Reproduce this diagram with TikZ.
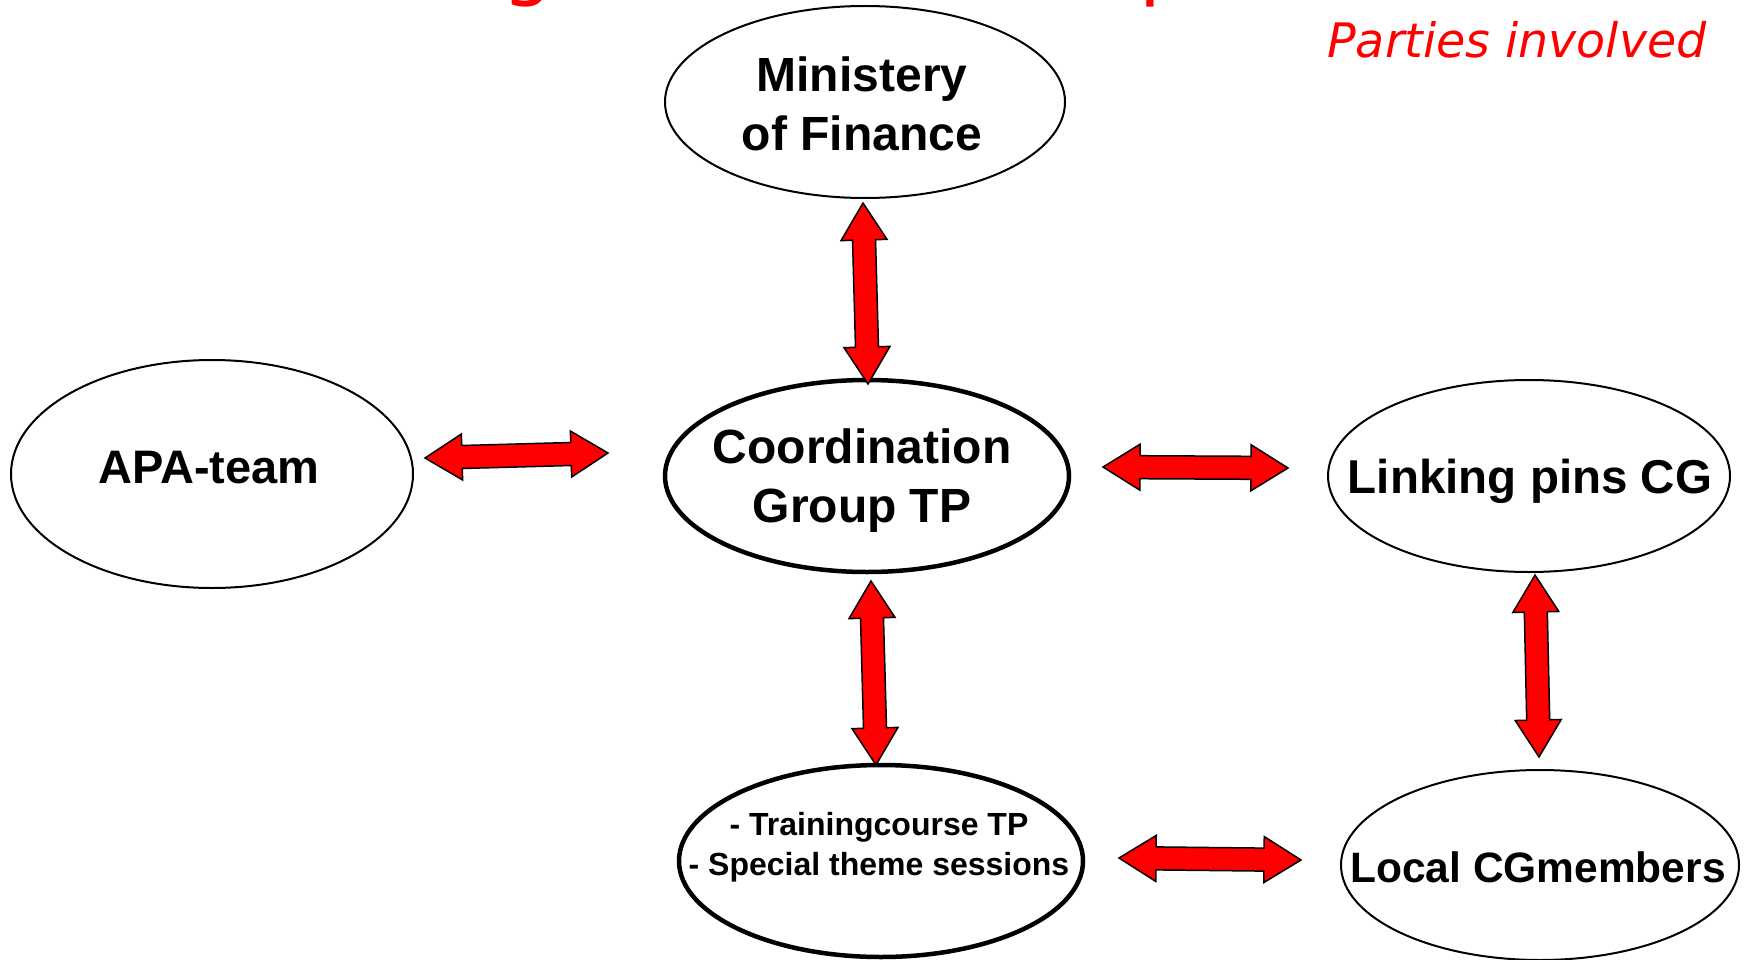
\documentclass[tikz,border=0pt]{standalone}
\usepackage{fontspec}
\setmainfont{Liberation Sans}
\newfontfamily\verdana{DejaVu Sans}
\usetikzlibrary{shapes.geometric, calc}
\newcommand{\frecciaDoppia}[3]{
\coordinate (#1a) at ($(#2)!\testa pt!(#3)$);
\coordinate (#1b) at ($(#3)!\testa pt!(#2)$);
\draw[freccia] (#2) -- ($(#1a)!\punta pt!90:(#3)$) -- ($(#1a)!\corpo pt!90:(#3)$) -- ($(#1b)!\corpo pt!-90:(#2)$) -- ($(#1b)!\punta pt!-90:(#2)$) -- (#3) -- ($(#1b)!\punta pt!90:(#2)$) -- ($(#1b)!\corpo pt!90:(#2)$) -- ($(#1a)!\corpo pt!-90:(#3)$) -- ($(#1a)!\punta pt!-90:(#3)$) -- cycle;
}

\begin{document}
\begin{tikzpicture}[x = 1pt, y = -1pt,
    ente/.style = {ellipse, draw, line width = 2pt, inner sep = 0pt},
    enteSpesso/.style = {ente, line width = 4.5pt},
    testo/.style = {font = \bfseries\fontsize{48}{59}\selectfont, align = center, inner sep = 0pt},
    freccia/.style = {fill = red, draw = black, line width = 1.5pt, line join = miter}]
    %Parametri
    \pgfmathsetmacro{\testa}{37}
    \pgfmathsetmacro{\punta}{23}
    \pgfmathsetmacro{\corpo}{11.5}
    \useasboundingbox (0,0) rectangle (1744,960);
    % Titolo tagliato
    \begin{scope}
        \clip (0,0) rectangle (1744,960);
        \node[text = red, font = \verdana\fontsize{80}{90}\selectfont, inner sep = 0pt, anchor = base west] (tg) at (502,-9) {g};
        \node[text = red, font = \verdana\fontsize{80}{90}\selectfont, inner sep = 0pt, anchor = base west] (tp) at (1139,-9) {p};
    \end{scope}
    \node[text = red, font = \verdana\itshape\fontsize{47.5}{55}\selectfont, inner sep = 0pt, anchor = base] (parti) at (1517,58) {Parties involved};
    % Enti
    \node[ente, minimum width = 400pt, minimum height = 192pt] (min) at (865,102) {};
    \node[ente, minimum width = 402pt, minimum height = 228pt] (apa) at (212,474) {};
    \node[enteSpesso, minimum width = 404pt, minimum height = 192pt] (coord) at (867,476) {};
    \node[ente, minimum width = 402pt, minimum height = 192pt] (link) at (1529,476) {};
    \node[enteSpesso, minimum width = 404pt, minimum height = 192pt] (train) at (881,861) {};
    \node[ente, minimum width = 398pt, minimum height = 190pt] (local) at (1540,865) {};
    % Testi
    \node[testo] (tmin) at (862,104) {Ministery\\of Finance};
    \node[testo, anchor = base, font = \bfseries\fontsize{47}{55}\selectfont] (tapa) at (209,483) {APA-team};
    \node[testo] (tcoord) at (862,481) {Coordination\\Group TP};
    \node[testo, anchor = base, font = \bfseries\fontsize{47.5}{55}\selectfont] (tlink) at (1530,493) {Linking pins CG};
    \node[testo, font = \bfseries\fontsize{32}{40}\selectfont] (ttrain) at (879,847) {- Trainingcourse TP\\- Special theme sessions};
    \node[testo, anchor = base, font = \bfseries\fontsize{42.5}{55}\selectfont] (tlocal) at (1538,882) {Local CGmembers};
    % Frecce
    \coordinate (f1s) at (425,458);
    \coordinate (f1e) at (608,453);
    \coordinate (f2s) at (863,203);
    \coordinate (f2e) at (868,384);
    \coordinate (f3s) at (1103,467);
    \coordinate (f3e) at (1288,468);
    \coordinate (f4s) at (871,581);
    \coordinate (f4e) at (876,765);
    \coordinate (f5s) at (1535,575);
    \coordinate (f5e) at (1539,757);
    \coordinate (f6s) at (1119,858);
    \coordinate (f6e) at (1301,860);
    \frecciaDoppia{fa}{f1s}{f1e}
    \frecciaDoppia{fb}{f2s}{f2e}
    \frecciaDoppia{fc}{f3s}{f3e}
    \frecciaDoppia{fd}{f4s}{f4e}
    \frecciaDoppia{fe}{f5s}{f5e}
    \frecciaDoppia{ff}{f6s}{f6e}
\end{tikzpicture}
\end{document}
